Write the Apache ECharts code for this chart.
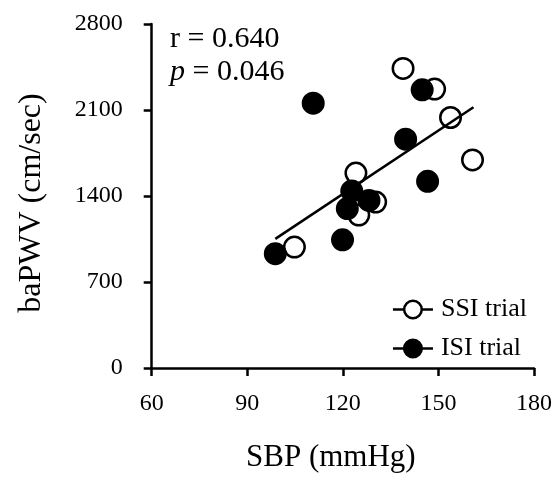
<!DOCTYPE html>
<html>
<head>
<meta charset="utf-8">
<script src="https://cdn.jsdelivr.net/npm/echarts@6/dist/echarts.min.js"></script>
<style>html,body{margin:0;padding:0;background:#fff}#c{width:555px;height:478px}</style>
</head>
<body>
<div id="c"></div>
<script>
// SSI trial (open circles): [SBP, baPWV]
var ssiSBP = [138.9, 148.8, 153.8, 160.7, 124.1, 130.3, 125.0, 104.8];
var ssiPWV = [2438, 2270, 2039, 1694, 1587, 1351, 1245, 984];
// ISI trial (filled circles)
var isiSBP = [110.7, 144.9, 139.7, 146.6, 122.8, 128.2, 121.4, 119.9, 98.8];
var isiPWV = [2155, 2264, 1862, 1520, 1440, 1364, 1298, 1043, 930];
// regression line endpoints
var fitSBP = [98.8, 161.0];
var fitPWV = [1051, 2122];
var xTicks = [60, 90, 120, 150, 180];
var yTicks = [0, 700, 1400, 2100, 2800];
var seriesNames = ['SSI trial', 'ISI trial'];
var statR = 'r = 0.640';
var statP = '0.046';

function zip(a, b) { return a.map(function (v, i) { return [v, b[i]]; }); }

var FONT = '"Liberation Serif", "Times New Roman", serif';
var chart = echarts.init(document.getElementById('c'), null, {renderer: 'canvas'});
chart.setOption({
  animation: false,
  backgroundColor: '#fff',
  grid: {left: 151.7, right: 19.3, top: 24, bottom: 105.5, containLabel: false},
  xAxis: {
    type: 'value', min: xTicks[0], max: xTicks[xTicks.length - 1], interval: 30,
    name: 'SBP (mmHg)', nameLocation: 'middle', nameGap: 74,
    nameTextStyle: {fontFamily: FONT, fontSize: 31, color: '#000', padding: [0, 24, 0, 0]},
    axisLine: {onZero: false, lineStyle: {color: '#000', width: 2.5}},
    axisTick: {show: true, inside: false, length: 8, lineStyle: {color: '#000', width: 2.5}},
    axisLabel: {fontFamily: FONT, fontSize: 24, color: '#000', margin: 24,
      formatter: function (v) { return String(v); }},
    splitLine: {show: false}
  },
  yAxis: {
    type: 'value', min: yTicks[0], max: yTicks[yTicks.length - 1], interval: 700,
    name: 'baPWV (cm/sec)', nameLocation: 'middle', nameGap: 104, nameRotate: 90,
    nameTextStyle: {fontFamily: FONT, fontSize: 32, color: '#000', padding: [0, 14, 0, 0]},
    axisLine: {onZero: false, lineStyle: {color: '#000', width: 2.5}},
    axisTick: {show: true, inside: false, length: 8, lineStyle: {color: '#000', width: 2.5}},
    axisLabel: {fontFamily: FONT, fontSize: 24, color: '#000', margin: 29,
      formatter: function (v) { return String(v); }},
    splitLine: {show: false}
  },
  legend: {
    data: seriesNames,
    orient: 'vertical',
    left: 391.7, top: 296.5, padding: 0,
    itemWidth: 40, itemHeight: 22, itemGap: 13,
    textStyle: {fontFamily: FONT, fontSize: 26, color: '#000', padding: [0, 0, 0, 3]},
    lineStyle: {color: '#000', width: 2.5, opacity: 1},
    itemStyle: {borderColor: '#000', borderWidth: 2.5},
    selectedMode: false
  },
  series: [
    {
      name: seriesNames[0], type: 'line', data: zip(ssiSBP, ssiPWV),
      symbol: 'circle', symbolSize: 20.5, showSymbol: true,
      lineStyle: {width: 0, opacity: 0},
      itemStyle: {color: '#fff', borderColor: '#000', borderWidth: 2.5},
      emphasis: {disabled: true}, z: 2
    },
    {
      name: 'fit', type: 'line', data: zip(fitSBP, fitPWV),
      symbol: 'none', lineStyle: {color: '#000', width: 2.5},
      emphasis: {disabled: true}, z: 3
    },
    {
      name: seriesNames[1], type: 'line', data: zip(isiSBP, isiPWV),
      symbol: 'circle', symbolSize: 20.5, showSymbol: true,
      lineStyle: {width: 0, opacity: 0},
      itemStyle: {color: '#000', borderColor: '#000', borderWidth: 2.5},
      emphasis: {disabled: true}, z: 4
    }
  ],
  graphic: [
    {type: 'text', left: 170, top: 24, style: {text: statR, font: '30px ' + FONT, fill: '#000'}},
    {type: 'text', left: 170, top: 57, style: {
      text: '{i|p} = ' + statP, font: '30px ' + FONT, fill: '#000',
      rich: {i: {fontStyle: 'italic', fontFamily: FONT, fontSize: 30, fill: '#000'}}
    }}
  ]
});
</script>
</body>
</html>
